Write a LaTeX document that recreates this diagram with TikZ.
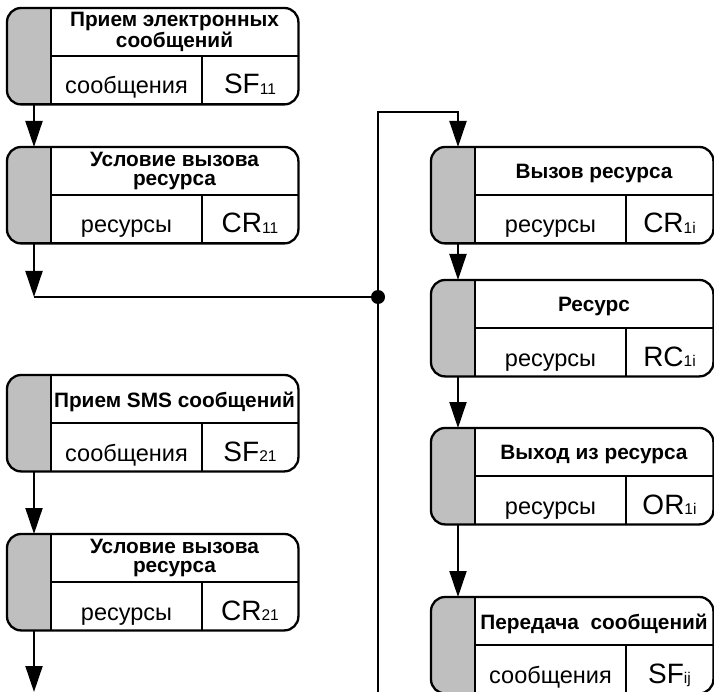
\documentclass[tikz,border=0pt]{standalone}
\usepackage{fontspec}
\setmainfont{Liberation Sans}
\usetikzlibrary{arrows.meta,calc}

\tikzset{
  frame/.style={line width=2.3pt, rounded corners=14pt},
  strip/.style={fill=black!25},
  rule/.style={line width=2pt},
  wire/.style={line width=2pt},
  flow/.style={line width=2pt, -{Triangle[length=26pt,width=17pt]}},
  ttl/.style={font=\bfseries\fontsize{20.8}{19}\selectfont, align=center, inner sep=0pt},
  oneline/.style={yshift=-2.5pt},
  lbl/.style={font=\fontsize{23.5}{23.5}\selectfont, inner sep=0pt, anchor=base},
  cde/.style={font=\fontsize{28}{28}\selectfont, inner sep=0pt, anchor=base},
  dot/.style={circle, fill, inner sep=0pt, minimum size=14pt},
}

% code with a small index, e.g. SF_11
\newcommand\codeix[2]{#1\raisebox{-0.5pt}{\fontsize{15.5}{15.5}\selectfont #2}}

% block: [#1 title options], #2 name, #3 left, #4 top, #5 right,
%        #6 title, #7 object, #8 code
% grey strip is 44pt wide, the code cell starts 195pt from the left edge
\newcommand\flowblock[8][]{%
  \node[minimum width={#5-#3}, minimum height=96pt, inner sep=0pt,
        anchor=north west] (#2) at (#3,#4) {};
  \begin{scope}
    \clip[rounded corners=14pt] (#2.north west) rectangle (#2.south east);
    \fill[strip] (#3,#4) rectangle ({#3+44},{#4+96});
  \end{scope}
  \draw[frame] (#2.north west) rectangle (#2.south east);
  \draw[rule] ({#3+44},#4) -- ({#3+44},{#4+96});
  \draw[rule] ({#3+44},{#4+48}) -- (#5,{#4+48});
  \draw[rule] ({#3+195},{#4+48}) -- ({#3+195},{#4+96});
  \node[ttl,#1] (#2-t) at ({(#3+44+#5)/2},{#4+24}) {#6};
  \node[lbl] (#2-o) at ({#3+(44+195)/2},{#4+86}) {#7};
  \node[cde] (#2-c) at ({(#3+195+#5)/2},{#4+86}) {#8};
}

\begin{document}
\begin{tikzpicture}[x=1pt, y=-1pt]
  \useasboundingbox (0,0) rectangle (714,692);
  \clip (0,0) rectangle (714,692);

  % left column
  \flowblock{b1}{7}{8}{298}{Прием электронных\\сообщений}{сообщения}{\codeix{SF}{11}}
  \flowblock{b2}{7}{147}{298}{Условие вызова\\ресурса}{ресурсы}{\codeix{CR}{11}}
  \flowblock[oneline]{s1}{7}{375}{298}{Прием SMS сообщений}{сообщения}{\codeix{SF}{21}}
  \flowblock{s2}{7}{534}{298}{Условие вызова\\ресурса}{ресурсы}{\codeix{CR}{21}}

  % right column
  \flowblock[oneline]{r1}{431}{147}{713}{Вызов ресурса}{ресурсы}{\codeix{CR}{1i}}
  \flowblock[oneline]{r2}{431}{280}{713}{Ресурс}{ресурсы}{\codeix{RC}{1i}}
  \flowblock[oneline]{r3}{431}{428}{713}{Выход из ресурса}{ресурсы}{\codeix{OR}{1i}}
  \flowblock[oneline]{r4}{431}{597}{713}{Передача\ \ сообщений}{сообщения}{\codeix{SF}{ij}}

  % connection points
  \node[dot] (jn) at (378,297) {};
  \coordinate (turn) at (34,297);
  \coordinate (bustop) at (378,112);
  \coordinate (busend) at (378,700);
  \coordinate (r1in) at ($(r1.north west)+(27,0)$);
  \coordinate (s2out) at (34,692);

  % left flows
  \draw[flow] ($(b1.south west)+(27,0)$) -- ($(b2.north west)+(27,0)$);
  \draw[flow] ($(b2.south west)+(27,0)$) -- (turn);
  \draw[wire] (turn) -- (jn.center);
  \draw[flow] ($(s1.south west)+(27,0)$) -- ($(s2.north west)+(27,0)$);
  \draw[flow] ($(s2.south west)+(27,0)$) -- (s2out);

  % bus to the right column
  \draw[flow] (busend) -- (jn.center) -- (bustop) -- (bustop -| r1in) -- (r1in);

  % right flows
  \draw[flow] ($(r1.south west)+(27,0)$) -- ($(r2.north west)+(27,0)$);
  \draw[flow] ($(r2.south west)+(27,0)$) -- ($(r3.north west)+(27,0)$);
  \draw[flow] ($(r3.south west)+(27,0)$) -- ($(r4.north west)+(27,0)$);
\end{tikzpicture}
\end{document}
